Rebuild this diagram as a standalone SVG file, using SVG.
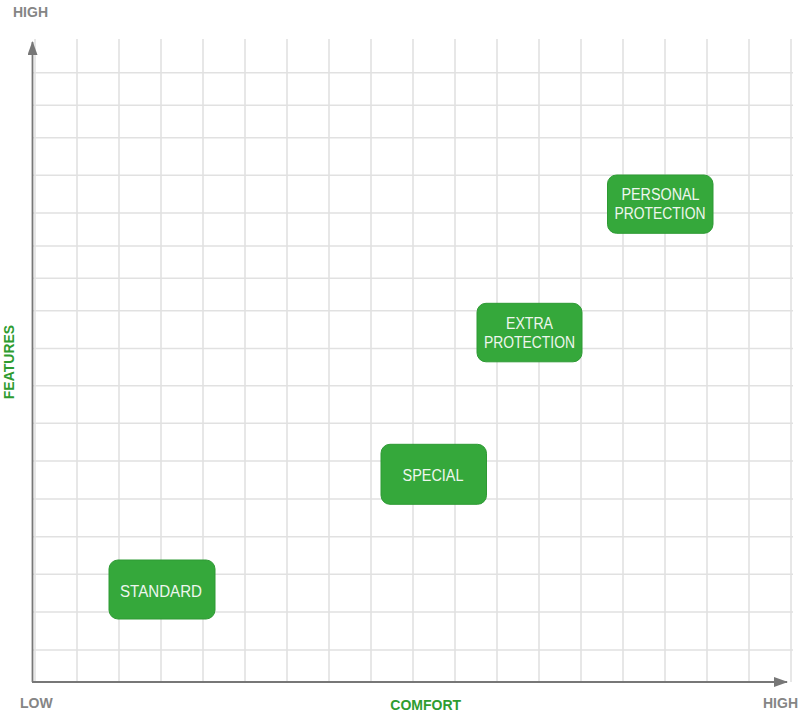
<svg xmlns="http://www.w3.org/2000/svg" width="800" height="712" viewBox="0 0 800 712">
<defs>
<style>
.grid line{stroke:#e1e1e1;stroke-width:1.6}
.axis{stroke:#777;stroke-width:1.8;fill:none}
.lbl{font-family:"Liberation Sans",Arial,sans-serif;font-weight:bold;font-size:14px}
.gray{fill:#858585}
.green{fill:#2e9c30}
.node rect{fill:#35a83b;stroke:#2e9a34;stroke-width:1}
.node text{font-family:"Liberation Sans",Arial,sans-serif;font-size:16px;fill:#eef6ee;text-anchor:middle}
</style>
<marker id="ah" viewBox="0 0 14 10" refX="13" refY="5" markerWidth="14" markerHeight="10" markerUnits="userSpaceOnUse" orient="auto">
<path d="M0,0 L14,5 L0,10 Z" fill="#777"/>
</marker>
</defs>
<rect width="800" height="712" fill="#fff"/>
<g class="grid">
<line x1="35" y1="39" x2="35" y2="682"/>
<line x1="77" y1="39" x2="77" y2="682"/>
<line x1="119" y1="39" x2="119" y2="682"/>
<line x1="161" y1="39" x2="161" y2="682"/>
<line x1="203" y1="39" x2="203" y2="682"/>
<line x1="245" y1="39" x2="245" y2="682"/>
<line x1="287" y1="39" x2="287" y2="682"/>
<line x1="329" y1="39" x2="329" y2="682"/>
<line x1="371" y1="39" x2="371" y2="682"/>
<line x1="413" y1="39" x2="413" y2="682"/>
<line x1="455" y1="39" x2="455" y2="682"/>
<line x1="497" y1="39" x2="497" y2="682"/>
<line x1="539" y1="39" x2="539" y2="682"/>
<line x1="581" y1="39" x2="581" y2="682"/>
<line x1="623" y1="39" x2="623" y2="682"/>
<line x1="665" y1="39" x2="665" y2="682"/>
<line x1="707" y1="39" x2="707" y2="682"/>
<line x1="749" y1="39" x2="749" y2="682"/>
<line x1="791" y1="39" x2="791" y2="682"/>
<line x1="33" y1="72.7" x2="793" y2="72.7"/>
<line x1="33" y1="105.3" x2="793" y2="105.3"/>
<line x1="33" y1="137.7" x2="793" y2="137.7"/>
<line x1="33" y1="175.3" x2="793" y2="175.3"/>
<line x1="33" y1="213" x2="793" y2="213"/>
<line x1="33" y1="246" x2="793" y2="246"/>
<line x1="33" y1="278.3" x2="793" y2="278.3"/>
<line x1="33" y1="310.7" x2="793" y2="310.7"/>
<line x1="33" y1="348.5" x2="793" y2="348.5"/>
<line x1="33" y1="385.7" x2="793" y2="385.7"/>
<line x1="33" y1="423.3" x2="793" y2="423.3"/>
<line x1="33" y1="461" x2="793" y2="461"/>
<line x1="33" y1="499" x2="793" y2="499"/>
<line x1="33" y1="536.7" x2="793" y2="536.7"/>
<line x1="33" y1="574.3" x2="793" y2="574.3"/>
<line x1="33" y1="612" x2="793" y2="612"/>
<line x1="33" y1="650" x2="793" y2="650"/>
</g>
<g id="connectors">
<line class="axis" x1="32.5" y1="682" x2="32.5" y2="42" marker-end="url(#ah)"/>
<line class="axis" x1="32" y1="682" x2="787" y2="682" marker-end="url(#ah)"/>
</g>
<g id="axis-labels">
<text class="lbl gray" x="13" y="16.5">HIGH</text>
<text class="lbl gray" x="20" y="708">LOW</text>
<text class="lbl gray" x="763" y="708">HIGH</text>
<text class="lbl green" x="425.7" y="709.5" text-anchor="middle">COMFORT</text>
<text class="lbl green" transform="translate(14 362) rotate(-90)" text-anchor="middle">FEATURES</text>
</g>
<g id="standard" class="node">
<rect x="109" y="560" width="106" height="59" rx="9"/>
<text x="161" y="597" textLength="82" lengthAdjust="spacingAndGlyphs">STANDARD</text>
</g>
<g id="special" class="node">
<rect x="381" y="444.3" width="105.5" height="60" rx="9"/>
<text x="433" y="481" textLength="61" lengthAdjust="spacingAndGlyphs">SPECIAL</text>
</g>
<g id="extra-protection" class="node">
<rect x="477" y="303.3" width="105" height="58.5" rx="9"/>
<text x="529.5" y="329" textLength="47" lengthAdjust="spacingAndGlyphs">EXTRA</text>
<text x="529.5" y="348.3" textLength="91" lengthAdjust="spacingAndGlyphs">PROTECTION</text>
</g>
<g id="personal-protection" class="node">
<rect x="607.5" y="175" width="105.5" height="58.3" rx="9"/>
<text x="660.5" y="200" textLength="78" lengthAdjust="spacingAndGlyphs">PERSONAL</text>
<text x="660" y="219.3" textLength="91" lengthAdjust="spacingAndGlyphs">PROTECTION</text>
</g>
</svg>
